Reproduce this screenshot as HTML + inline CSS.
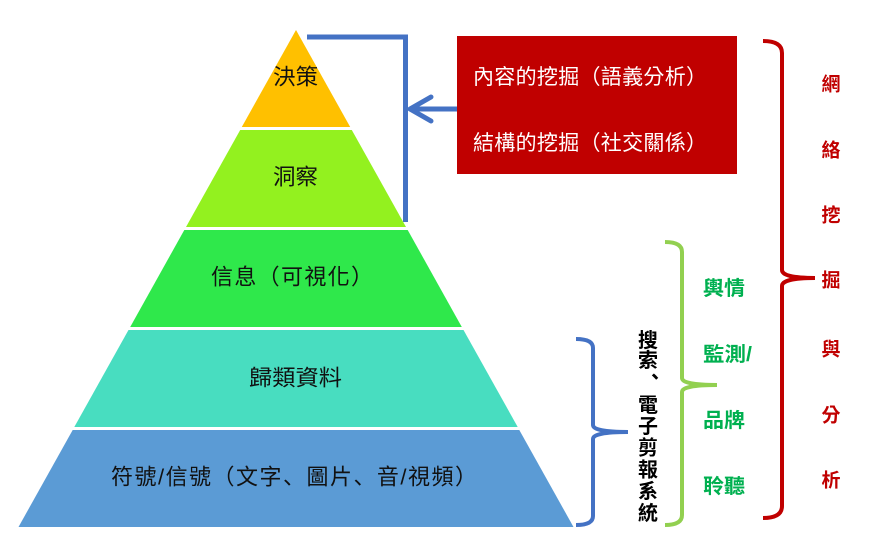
<!DOCTYPE html>
<html><head><meta charset="utf-8"><style>
html,body{margin:0;padding:0;background:#fff;}
svg{display:block;}
text{font-family:"Liberation Sans","Noto Sans CJK TC","Noto Sans CJK SC",sans-serif;}
</style></head><body>
<svg width="875" height="560" viewBox="0 0 875 560" xmlns="http://www.w3.org/2000/svg">
<rect width="875" height="560" fill="#fff"/>
<!-- pyramid -->
<polygon points="296,30 350.2,127 241.8,127" fill="#FFC000"/>
<polygon points="240.2,130 351.8,130 406,227 186,227" fill="#93F11F"/>
<polygon points="184.3,230 407.7,230 461.8,327 130.2,327" fill="#2FE84B"/>
<polygon points="128.5,330 463.5,330 517.7,427 74.3,427" fill="#48DDC0"/>
<polygon points="72.7,430 519.3,430 573.5,527 18.5,527" fill="#5B9BD5"/>
<g fill="#111" font-size="22" dominant-baseline="central">
<text x="273" y="77" textLength="45" lengthAdjust="spacingAndGlyphs">決策</text>
<text x="273" y="177" textLength="45" lengthAdjust="spacingAndGlyphs">洞察</text>
<text x="211" y="277" textLength="162" lengthAdjust="spacing">信息（可視化）</text>
<text x="249" y="378" textLength="93" lengthAdjust="spacingAndGlyphs">歸類資料</text>
<text x="111" y="477" textLength="366" lengthAdjust="spacing" style='font-family:"Liberation Sans","Noto Sans CJK SC",sans-serif'>符號/信號（文字、圖片、音/視頻）</text>
</g>
<!-- top blue bracket + arrow -->
<path d="M307,37 H405.5 V222" fill="none" stroke="#4472C4" stroke-width="5"/>
<line x1="411" y1="109" x2="457" y2="109" stroke="#4472C4" stroke-width="5"/>
<polyline points="431,97 410,109 431,121" fill="none" stroke="#4472C4" stroke-width="5" stroke-linecap="round" stroke-linejoin="round"/>
<!-- red box -->
<rect x="457" y="36" width="280" height="138" fill="#C00000"/>
<g fill="#fff" font-size="21" dominant-baseline="central">
<text x="473" y="77.5" textLength="234" lengthAdjust="spacing">內容的挖掘（語義分析）</text>
<text x="473" y="143.5" textLength="234" lengthAdjust="spacing">結構的挖掘（社交關係）</text>
</g>
<!-- red brace -->
<path d="M763,41 Q782,41 782,53 V270 Q782,278 815,278 Q782,278 782,286 V506 Q782,518 763,518" fill="none" stroke="#C00000" stroke-width="4"/>
<g fill="#C00000" font-size="19" font-weight="bold" text-anchor="middle" dominant-baseline="central">
<text x="831" y="85">網</text>
<text x="831" y="151">絡</text>
<text x="831" y="216">挖</text>
<text x="831" y="281">掘</text>
<text x="831" y="350">與</text>
<text x="831" y="416">分</text>
<text x="831" y="481">析</text>
</g>
<!-- green brace -->
<path d="M665,242 Q682,242 682,252 V378 Q682,385 717,385 Q682,385 682,392 V515 Q682,525 665,525" fill="none" stroke="#92D050" stroke-width="4"/>
<g fill="#00B050" font-size="20" font-weight="bold" dominant-baseline="central">
<text x="703" y="289" textLength="42" lengthAdjust="spacingAndGlyphs">輿情</text>
<text x="703" y="355" textLength="49" lengthAdjust="spacingAndGlyphs">監測/</text>
<text x="703" y="421" textLength="42" lengthAdjust="spacingAndGlyphs">品牌</text>
<text x="703" y="487" textLength="42" lengthAdjust="spacingAndGlyphs">聆聽</text>
</g>
<!-- blue brace -->
<path d="M576,339 Q593,339 593,348 V425 Q593,432 628,432 Q593,432 593,439 V516 Q593,525 576,525" fill="none" stroke="#4472C4" stroke-width="4"/>
<g fill="#000" font-size="20" font-weight="bold" text-anchor="middle" dominant-baseline="central">
<text x="648" y="341">搜</text>
<text x="648" y="361">索</text>
<text x="655" y="378">、</text>
<text x="648" y="406">電</text>
<text x="648" y="427">子</text>
<text x="648" y="448.5">剪</text>
<text x="648" y="470.5">報</text>
<text x="648" y="492">系</text>
<text x="648" y="514">統</text>
</g>
</svg>
</body></html>
